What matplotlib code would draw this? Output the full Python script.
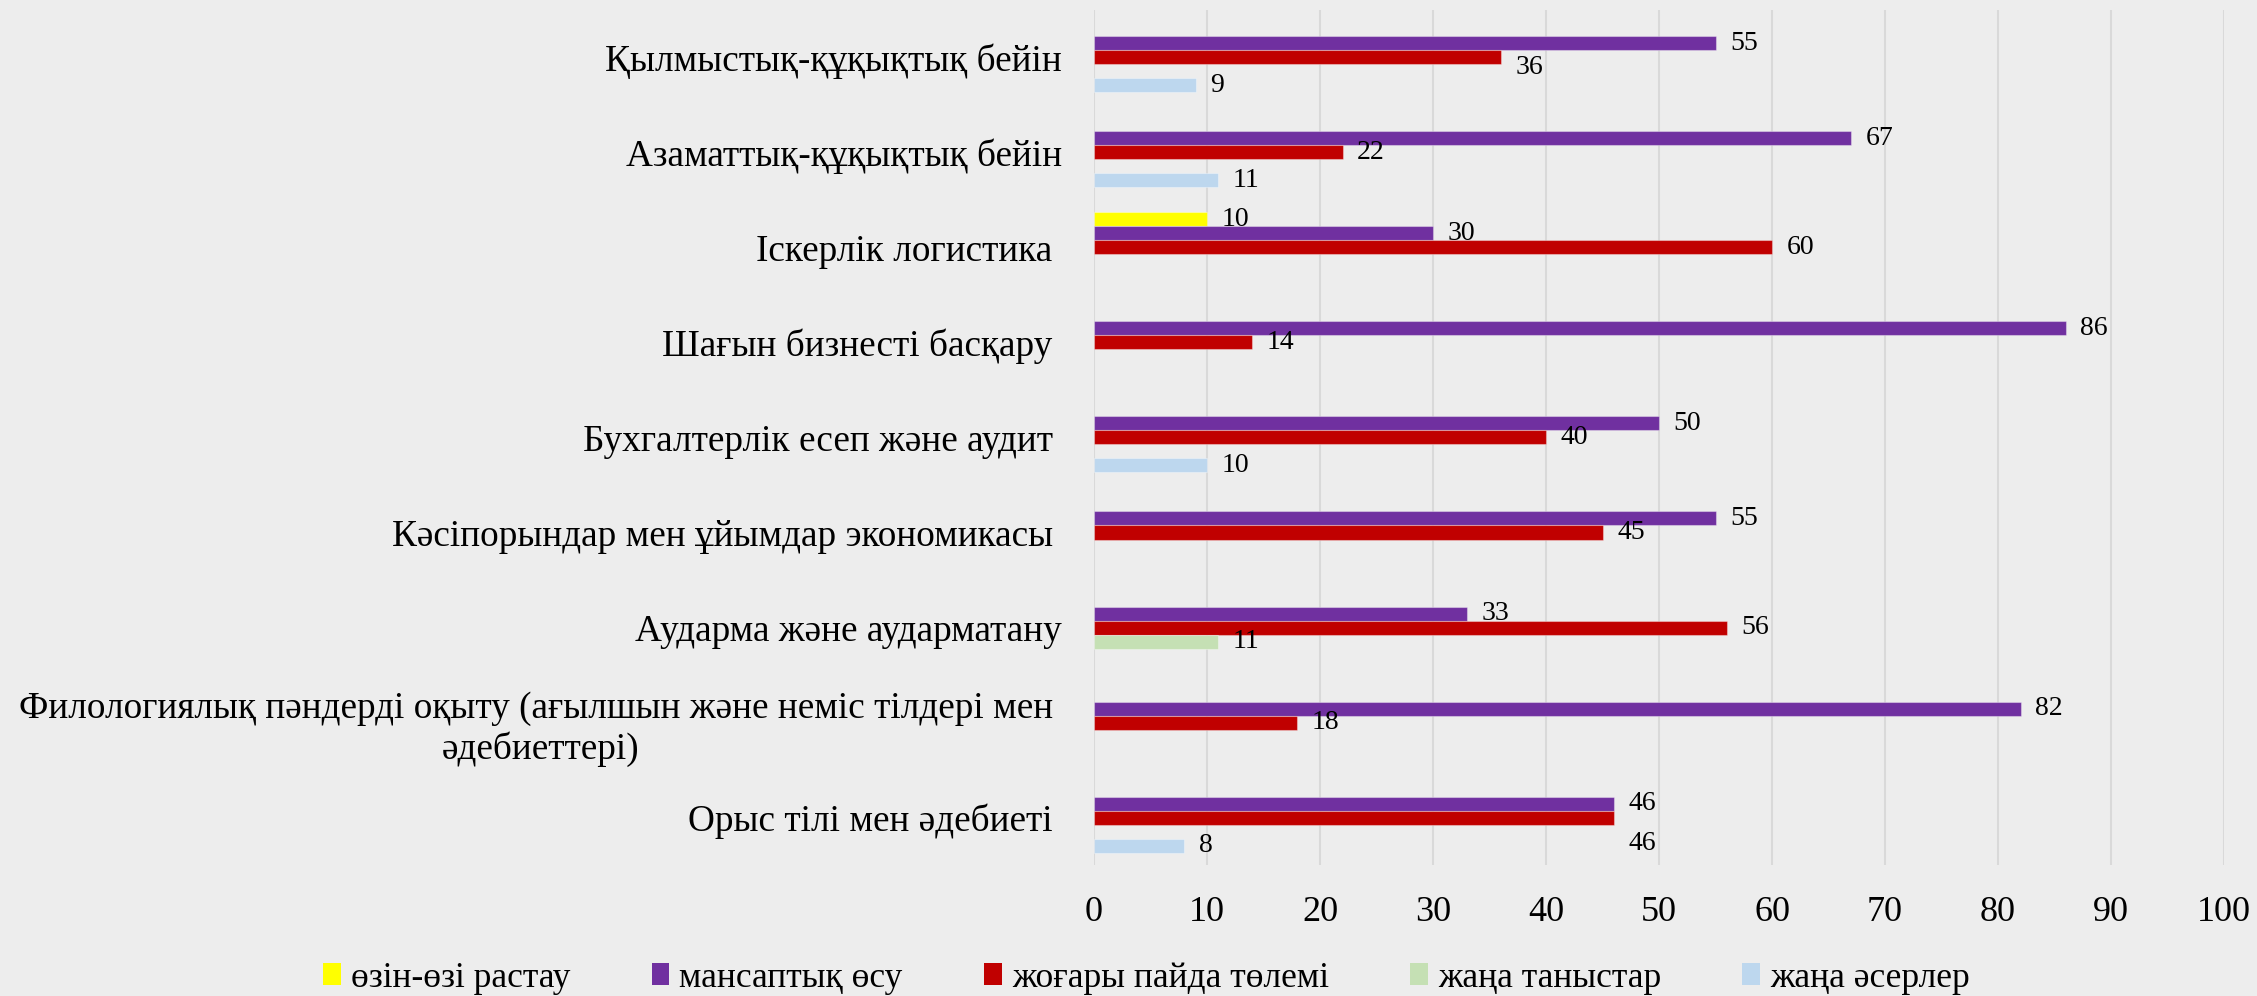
import matplotlib
matplotlib.use("Agg")
import matplotlib.pyplot as plt
import numpy as np
from matplotlib.patches import Patch

categories = [
    "Қылмыстық-құқықтық бейін",
    "Азаматтық-құқықтық бейін",
    "Іскерлік логистика ",
    "Шағын бизнесті басқару ",
    "Бухгалтерлік есеп және аудит ",
    "Кәсіпорындар мен ұйымдар экономикасы ",
    "Аударма және аударматану",
    "Филологиялық пәндерді оқыту (ағылшын және неміс тілдері мен \nәдебиеттері)",
    "Орыс тілі мен әдебиеті ",
]

series_names = ["өзін-өзі растау", "мансаптық өсу", "жоғары пайда төлемі",
                "жаңа таныстар", "жаңа әсерлер"]

# None = no bar in that slot
self_affirm = [None, None, 10, None, None, None, None, None, None]
career = [55, 67, 30, 86, 50, 55, 33, 82, 46]
high_pay = [36, 22, 60, 14, 40, 45, 56, 18, 46]
new_friends = [None, None, None, None, None, None, 11, None, None]
new_impress = [9, 11, None, None, 10, None, None, None, 8]

xticks = [0, 10, 20, 30, 40, 50, 60, 70, 80, 90, 100]

colors = ["#FFFF00", "#7030A0", "#C00000", "#C5E0B4", "#BDD7EE"]
BG = "#EDEDED"

# label nudges (points, downward) where the original labels sit off their bar
label_shift = {(0, 2): 7, (8, 2): 19}

plt.rcParams["font.family"] = ["Liberation Serif", "DejaVu Serif"]

fig = plt.figure(figsize=(22.57, 9.96), dpi=100, facecolor=BG)
ax = fig.add_axes([0.4847, 0.1315, 0.5007, 0.8585])
ax.set_facecolor(BG)

data = [self_affirm, career, high_pay, new_friends, new_impress]
h = 14 / 95
y = np.arange(len(categories))
for j, (vals, col, name) in enumerate(zip(data, colors, series_names)):
    pos = y + (j - 2) * h
    for i, v in enumerate(vals):
        if v is None:
            continue
        ax.barh(pos[i], v, height=h, color=col,
                edgecolor=(1, 1, 1, 0.35), linewidth=0.8, zorder=3)
        dy = label_shift.get((i, j), 0)
        ax.annotate(str(v), (v, pos[i]), xytext=(10.5, -dy),
                    textcoords="offset points", ha="left", va="center",
                    fontsize=20, color="black", zorder=4)

ax.set_ylim(len(categories) - 0.5, -0.5)
ax.set_xlim(0, 100)
ax.set_xticks(xticks)
ax.set_xticklabels([str(t) for t in xticks], fontsize=26)
ax.set_yticks(y)
ax.set_yticklabels(categories, fontsize=26.8, multialignment="center")
ax.tick_params(axis="both", length=0)
ax.tick_params(axis="y", pad=23)
ax.tick_params(axis="x", pad=22)
ax.xaxis.grid(True, color="#D9D9D9", linewidth=1.5, zorder=0)
ax.set_axisbelow(True)
for s in ax.spines.values():
    s.set_visible(False)

handles = [Patch(facecolor=c, edgecolor="none") for c in colors]
fig.legend(handles, series_names, loc="center", bbox_to_anchor=(0.508, 0.018),
           ncol=5, frameon=False, fontsize=25.5, handlelength=0.5,
           handleheight=0.55, handletextpad=0.28, columnspacing=2.3)

fig.savefig("out.png", dpi=100, facecolor=BG)
